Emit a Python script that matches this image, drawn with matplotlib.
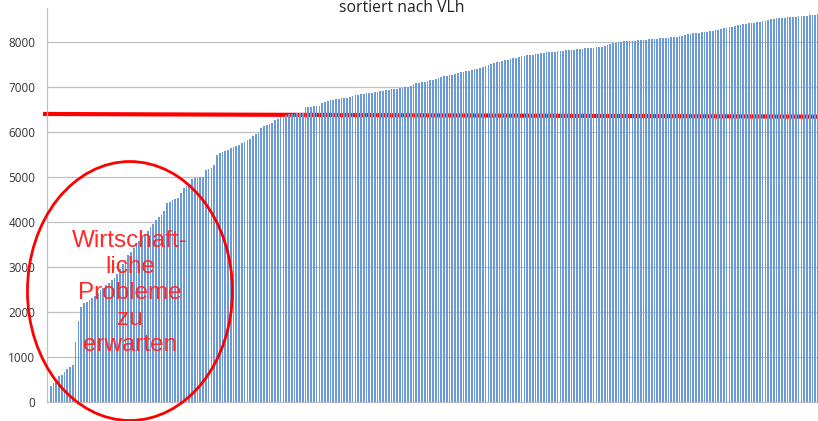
import matplotlib
matplotlib.use("Agg")
import matplotlib.pyplot as plt
from matplotlib.patches import Ellipse
import numpy as np

# ---- data (sorted values, VLh) ----
vlh_values = [
    355, 415, 490, 575, 600, 670, 725, 770, 820, 1340,
    1800, 2100, 2200, 2230, 2265, 2300, 2350, 2420, 2490, 2540,
    2590, 2640, 2700, 2760, 2850, 2960, 3060, 3150, 3260, 3330,
    3420, 3510, 3570, 3660, 3720, 3800, 3880, 3960, 4030, 4100,
    4160, 4240, 4410, 4450, 4480, 4510, 4540, 4640, 4760, 4800,
    4830, 4960, 4970, 4980, 4985, 4990, 5150, 5170, 5190, 5270,
    5480, 5520, 5550, 5570, 5600, 5640, 5660, 5690, 5710, 5740,
    5780, 5810, 5850, 5900, 5940, 5980, 6090, 6120, 6150, 6180,
    6200, 6260, 6290, 6320, 6350, 6380, 6390, 6400, 6405, 6410,
    6415, 6420, 6540, 6550, 6560, 6565, 6570, 6580, 6640, 6660,
    6680, 6700, 6710, 6720, 6730, 6740, 6750, 6760, 6770, 6800,
    6810, 6820, 6830, 6840, 6850, 6860, 6870, 6880, 6890, 6900,
    6910, 6920, 6930, 6940, 6950, 6960, 6970, 6980, 6990, 7000,
    7010, 7060, 7075, 7090, 7100, 7110, 7120, 7140, 7160, 7175,
    7200, 7220, 7230, 7240, 7250, 7260, 7280, 7300, 7320, 7330,
    7345, 7360, 7370, 7385, 7400, 7420, 7440, 7460, 7480, 7500,
    7520, 7540, 7560, 7575, 7590, 7600, 7615, 7630, 7645, 7660,
    7680, 7690, 7700, 7705, 7710, 7720, 7730, 7740, 7750, 7760,
    7765, 7770, 7780, 7785, 7790, 7800, 7805, 7810, 7815, 7820,
    7830, 7835, 7840, 7850, 7855, 7860, 7870, 7880, 7885, 7890,
    7910, 7930, 7950, 7965, 7980, 7995, 8000, 8005, 8010, 8015,
    8020, 8025, 8030, 8035, 8040, 8045, 8050, 8060, 8065, 8070,
    8075, 8080, 8085, 8090, 8100, 8105, 8110, 8120, 8130, 8140,
    8170, 8180, 8185, 8190, 8200, 8205, 8210, 8220, 8230, 8240,
    8250, 8265, 8280, 8295, 8310, 8320, 8335, 8350, 8365, 8375,
    8385, 8395, 8405, 8415, 8425, 8435, 8445, 8455, 8465, 8480,
    8495, 8505, 8515, 8520, 8525, 8530, 8540, 8545, 8550, 8555,
    8560, 8570, 8575, 8580, 8585, 8590, 8600, 8620,
]
threshold_line = [6395, 6335]          # red reference line: left end, right end
y_ticks = [0, 1000, 2000, 3000, 4000, 5000, 6000, 7000, 8000]
title_text = "sortiert nach VLh"
note_text = "Wirtschaft-\nliche\nProbleme\nzu\nerwarten"

# ---- figure ----
W, H = 818, 421
fig = plt.figure(figsize=(W / 100, H / 100), dpi=100)
fig.patch.set_facecolor("white")
left_px, bottom_px, top_px = 47.3, 402.0, 8.0
ax = fig.add_axes([left_px / W, (H - bottom_px) / H,
                   (W - left_px) / W, (bottom_px - top_px) / H])

n = len(vlh_values)
x = np.arange(n)
ax.bar(x, vlh_values, width=0.62, color="#6a9ad8", edgecolor="none",
       zorder=3, antialiased=True)

ax.set_xlim(-1.23, n - 1.0)
ax.set_ylim(0, 8748)

# red reference line (behind bars)
ax.plot([-2.8, n - 1.0], threshold_line, color="#ff0000", lw=3.0,
        solid_capstyle="butt", zorder=2, clip_on=False)

# grid & spines
ax.set_yticks(y_ticks)
ax.yaxis.grid(True, color="#c0c0c0", lw=0.9, zorder=0)
ax.set_axisbelow(True)
for s in ["top", "right"]:
    ax.spines[s].set_visible(False)
ax.spines["left"].set_color("#c0c0c0")
ax.spines["left"].set_linewidth(0.9)
ax.spines["bottom"].set_color("#c0c0c0")
ax.spines["bottom"].set_linewidth(0.9)
ax.set_xticks([])
ax.tick_params(axis="y", length=0, pad=8.6, labelsize=8.5,
               labelcolor="#333333")
for lab in ax.get_yticklabels():
    lab.set_family(["Open Sans", "DejaVu Sans"])

# ellipse annotation
ell = Ellipse((28.6, 2464), width=74.0, height=5750, fill=False,
              edgecolor="#ff0000", lw=2.0, zorder=5, clip_on=False)
ax.add_patch(ell)
ax.text(28.6, 2420, note_text, color="#ff2a2a", fontsize=17.5,
        family=["Liberation Sans", "DejaVu Sans"], ha="center", va="center",
        multialignment="center", linespacing=1.24, zorder=6)

# title (partly cut at the top)
fig.text(402 / W, (H - 11.7) / H, title_text, ha="center", va="baseline",
         fontsize=11.3, color="#222222", family=["Open Sans", "DejaVu Sans"])

fig.savefig("out.png", dpi=100, facecolor="white")
